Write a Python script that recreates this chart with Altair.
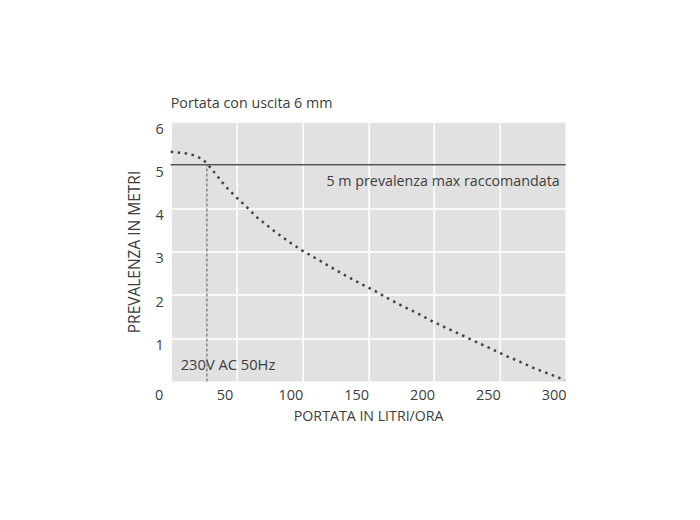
import altair as alt
import pandas as pd

# ---- data ----
flow = [0, 6.5, 12, 17.5, 23, 27.5, 31, 35, 39, 43, 47.5, 52, 56.5, 61, 65, 70, 75, 80,
        85, 90, 95, 100, 111, 121.5, 132.5, 143.5, 154.5, 165, 176, 187, 198, 209,
        220.5, 231.5, 243, 254, 265, 276.5, 288, 299.5]
head = [5.30, 5.28, 5.26, 5.22, 5.15, 5.04, 4.90, 4.76, 4.60, 4.46, 4.32, 4.19, 4.06,
        3.93, 3.80, 3.68, 3.56, 3.44, 3.33, 3.22, 3.12, 3.02, 2.83, 2.64, 2.45, 2.27,
        2.10, 1.92, 1.74, 1.58, 1.40, 1.24, 1.08, 0.92, 0.76, 0.60, 0.46, 0.30, 0.17, 0.03]
x_ticks = [0, 50, 100, 150, 200, 250, 300]
y_ticks = [1, 2, 3, 4, 5, 6]
max_head = [5]
duty_flow = [27.5]
title_text = "Portata con uscita 6 mm"
x_title = "PORTATA IN LITRI/ORA"
y_title = "PREVALENZA IN METRI"
max_label = ["5 m prevalenza max raccomandata"]
power_label = ["230V AC 50Hz"]

FONT = "Open Sans"
TXT = "#3d3d3d"

curve = pd.DataFrame({"flow": flow, "head": head})
max_df = pd.DataFrame({"head": max_head, "flow": [300], "label": max_label})
duty_df = pd.DataFrame({"flow": duty_flow, "y0": [0], "y1": max_head})
power_df = pd.DataFrame({"flow": [0], "head": [0], "label": power_label})

xscale = alt.Scale(domain=[0, 300], nice=False)
yscale = alt.Scale(domain=[0, 6], nice=False)

xaxis = alt.Axis(title=x_title, values=x_ticks, ticks=False, tickSize=0, domain=False,
                 labelOffset=-12, labelPadding=14, labelBaseline="middle",
                 labelFlush=False, labelFontSize=14.5, titleFontSize=14.2,
                 titleX=197.5, titleY=35.5, titleBaseline="middle")
yaxis = alt.Axis(title=y_title, values=y_ticks, ticks=False, tickSize=0, domain=False,
                 labelOffset=7.5, labelPadding=7.5, labelFontSize=14.5,
                 labelFlush=False, titleFontSize=15.5,
                 titleX=-36.5, titleY=130, titleAlign="center", titleBaseline="middle",
                 titleAngle=-90)

line = alt.Chart(curve).mark_line(
    strokeDash=[2.5, 4.5], strokeWidth=2.5, strokeCap="butt", color="#444444"
).encode(
    x=alt.X("flow:Q", scale=xscale, axis=xaxis),
    y=alt.Y("head:Q", scale=yscale, axis=yaxis),
)

hline = alt.Chart(max_df).mark_rule(color="#505050", strokeWidth=1.5).encode(
    y=alt.Y("head:Q", scale=yscale)
)

vline = alt.Chart(duty_df).mark_rule(color="#707070", strokeWidth=1.2, strokeDash=[3, 2]).encode(
    x=alt.X("flow:Q", scale=xscale),
    y=alt.Y("y0:Q", scale=yscale),
    y2="y1:Q",
)

max_text = alt.Chart(max_df).mark_text(
    align="right", baseline="middle", dx=-6, dy=17.5, font=FONT, fontSize=14.3, color=TXT
).encode(x=alt.X("flow:Q", scale=xscale), y=alt.Y("head:Q", scale=yscale), text="label:N")

power_text = alt.Chart(power_df).mark_text(
    align="left", baseline="middle", dx=10, dy=-15, font=FONT, fontSize=14.7, color=TXT
).encode(x=alt.X("flow:Q", scale=xscale), y=alt.Y("head:Q", scale=yscale), text="label:N")

chart = alt.layer(line, hline, vline, max_text, power_text).properties(
    width=395,
    height=260,
    autosize=alt.AutoSizeParams(type="none"),
    padding={"left": 162.7, "top": 113.5, "right": 120, "bottom": 130},
    title=alt.TitleParams(text=title_text, anchor="start", frame="group", offset=11,
                          dy=12.5, baseline="alphabetic", font=FONT, fontSize=14.3,
                          fontWeight="normal", color=TXT),
).configure_view(
    fill="#e1e1e2", stroke=None
).configure_axis(
    gridColor="white", gridWidth=1.5, gridOpacity=1,
    labelFont=FONT, labelColor=TXT,
    titleFont=FONT, titleFontWeight="normal", titleColor=TXT,
)

chart.save("out.html", embed_options={"renderer": "svg", "actions": False})
